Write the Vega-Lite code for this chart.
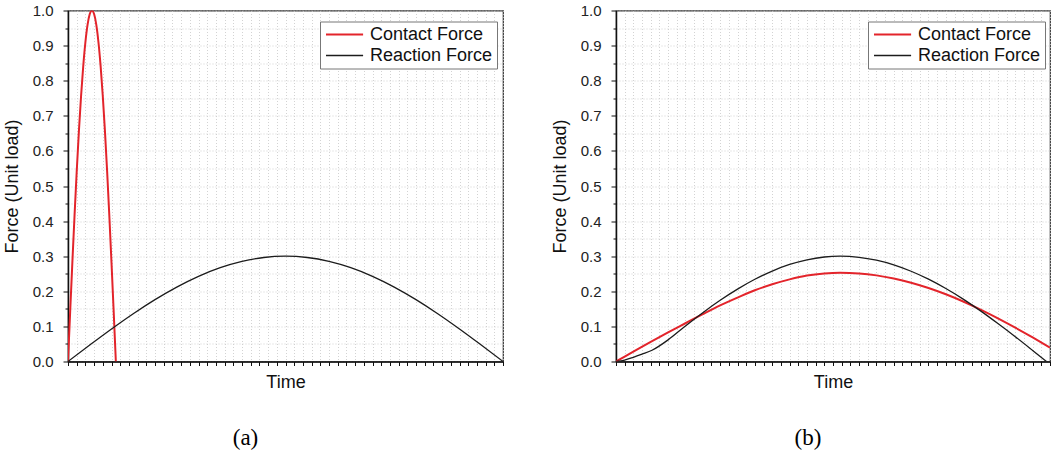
{
  "$schema": "https://vega.github.io/schema/vega-lite/v6.json",
  "padding": {"left": 2, "top": 2.5, "right": 0, "bottom": 0},
  "spacing": 45,
  "background": "white",
  "datasets": {
    "a": [
      {"series": "Contact Force", "t": 0, "f": 0},
      {"series": "Contact Force", "t": 0.25, "f": 0.1423},
      {"series": "Contact Force", "t": 0.5, "f": 0.2817},
      {"series": "Contact Force", "t": 0.75, "f": 0.4154},
      {"series": "Contact Force", "t": 1.0, "f": 0.5406},
      {"series": "Contact Force", "t": 1.25, "f": 0.6549},
      {"series": "Contact Force", "t": 1.5, "f": 0.7557},
      {"series": "Contact Force", "t": 1.75, "f": 0.8413},
      {"series": "Contact Force", "t": 2.0, "f": 0.9096},
      {"series": "Contact Force", "t": 2.25, "f": 0.9595},
      {"series": "Contact Force", "t": 2.5, "f": 0.9898},
      {"series": "Contact Force", "t": 2.75, "f": 1.0},
      {"series": "Contact Force", "t": 3.0, "f": 0.9898},
      {"series": "Contact Force", "t": 3.25, "f": 0.9595},
      {"series": "Contact Force", "t": 3.5, "f": 0.9096},
      {"series": "Contact Force", "t": 3.75, "f": 0.8413},
      {"series": "Contact Force", "t": 4.0, "f": 0.7557},
      {"series": "Contact Force", "t": 4.25, "f": 0.6549},
      {"series": "Contact Force", "t": 4.5, "f": 0.5406},
      {"series": "Contact Force", "t": 4.75, "f": 0.4154},
      {"series": "Contact Force", "t": 5.0, "f": 0.2817},
      {"series": "Contact Force", "t": 5.25, "f": 0.1423},
      {"series": "Contact Force", "t": 5.5, "f": 0},
      {"series": "Reaction Force", "t": 0, "f": 0},
      {"series": "Reaction Force", "t": 2.5, "f": 0.0469},
      {"series": "Reaction Force", "t": 5, "f": 0.0927},
      {"series": "Reaction Force", "t": 7.5, "f": 0.1362},
      {"series": "Reaction Force", "t": 10, "f": 0.1763},
      {"series": "Reaction Force", "t": 12.5, "f": 0.2121},
      {"series": "Reaction Force", "t": 15, "f": 0.2427},
      {"series": "Reaction Force", "t": 17.5, "f": 0.2673},
      {"series": "Reaction Force", "t": 20, "f": 0.2853},
      {"series": "Reaction Force", "t": 22.5, "f": 0.2963},
      {"series": "Reaction Force", "t": 25, "f": 0.3},
      {"series": "Reaction Force", "t": 27.5, "f": 0.2963},
      {"series": "Reaction Force", "t": 30, "f": 0.2853},
      {"series": "Reaction Force", "t": 32.5, "f": 0.2673},
      {"series": "Reaction Force", "t": 35, "f": 0.2427},
      {"series": "Reaction Force", "t": 37.5, "f": 0.2121},
      {"series": "Reaction Force", "t": 40, "f": 0.1763},
      {"series": "Reaction Force", "t": 42.5, "f": 0.1362},
      {"series": "Reaction Force", "t": 45, "f": 0.0927},
      {"series": "Reaction Force", "t": 47.5, "f": 0.0469},
      {"series": "Reaction Force", "t": 50, "f": 0}
    ],
    "b": [
      {"series": "Contact Force", "t": 0, "f": 0},
      {"series": "Contact Force", "t": 2, "f": 0.028},
      {"series": "Contact Force", "t": 4, "f": 0.056},
      {"series": "Contact Force", "t": 6, "f": 0.083},
      {"series": "Contact Force", "t": 8, "f": 0.109},
      {"series": "Contact Force", "t": 10, "f": 0.135},
      {"series": "Contact Force", "t": 12, "f": 0.16},
      {"series": "Contact Force", "t": 14, "f": 0.182},
      {"series": "Contact Force", "t": 16, "f": 0.203},
      {"series": "Contact Force", "t": 18, "f": 0.22},
      {"series": "Contact Force", "t": 20, "f": 0.234},
      {"series": "Contact Force", "t": 22, "f": 0.245},
      {"series": "Contact Force", "t": 24, "f": 0.251},
      {"series": "Contact Force", "t": 25.8, "f": 0.253},
      {"series": "Contact Force", "t": 28, "f": 0.2509},
      {"series": "Contact Force", "t": 30, "f": 0.2454},
      {"series": "Contact Force", "t": 32, "f": 0.2366},
      {"series": "Contact Force", "t": 34, "f": 0.2246},
      {"series": "Contact Force", "t": 36, "f": 0.2094},
      {"series": "Contact Force", "t": 38, "f": 0.1915},
      {"series": "Contact Force", "t": 40, "f": 0.1709},
      {"series": "Contact Force", "t": 42, "f": 0.148},
      {"series": "Contact Force", "t": 44, "f": 0.1231},
      {"series": "Contact Force", "t": 46, "f": 0.0965},
      {"series": "Contact Force", "t": 48, "f": 0.0686},
      {"series": "Contact Force", "t": 50, "f": 0.0397},
      {"series": "Reaction Force", "t": 0, "f": 0},
      {"series": "Reaction Force", "t": 1, "f": 0.004},
      {"series": "Reaction Force", "t": 2, "f": 0.012},
      {"series": "Reaction Force", "t": 3, "f": 0.021},
      {"series": "Reaction Force", "t": 4.15, "f": 0.032},
      {"series": "Reaction Force", "t": 6, "f": 0.0616},
      {"series": "Reaction Force", "t": 8, "f": 0.1013},
      {"series": "Reaction Force", "t": 10, "f": 0.1391},
      {"series": "Reaction Force", "t": 12, "f": 0.1743},
      {"series": "Reaction Force", "t": 14, "f": 0.2062},
      {"series": "Reaction Force", "t": 16, "f": 0.2342},
      {"series": "Reaction Force", "t": 18, "f": 0.2577},
      {"series": "Reaction Force", "t": 20, "f": 0.2764},
      {"series": "Reaction Force", "t": 22, "f": 0.2898},
      {"series": "Reaction Force", "t": 24, "f": 0.2977},
      {"series": "Reaction Force", "t": 25.8, "f": 0.3},
      {"series": "Reaction Force", "t": 28, "f": 0.2969},
      {"series": "Reaction Force", "t": 30, "f": 0.2885},
      {"series": "Reaction Force", "t": 32, "f": 0.2753},
      {"series": "Reaction Force", "t": 34, "f": 0.2571},
      {"series": "Reaction Force", "t": 36, "f": 0.2345},
      {"series": "Reaction Force", "t": 38, "f": 0.2079},
      {"series": "Reaction Force", "t": 40, "f": 0.1777},
      {"series": "Reaction Force", "t": 42, "f": 0.1442},
      {"series": "Reaction Force", "t": 44, "f": 0.1081},
      {"series": "Reaction Force", "t": 46, "f": 0.0706},
      {"series": "Reaction Force", "t": 48, "f": 0.0316},
      {"series": "Reaction Force", "t": 49.6, "f": 0}
    ]
  },
  "hconcat": [
    {
      "width": 435,
      "height": 351,
      "data": {"name": "a"},
      "title": {"text": "(a)", "orient": "bottom", "anchor": "middle", "frame": "group", "dx": -40, "offset": 36},
      "mark": {"type": "line", "interpolate": "monotone", "clip": true},
      "encoding": {
        "x": {"field": "t", "type": "quantitative", "scale": {"domain": [0, 50], "nice": false, "zero": false},
          "axis": {"title": "Time", "values": [0,1,2,3,4,5,6,7,8,9,10,11,12,13,14,15,16,17,18,19,20,21,22,23,24,25,26,27,28,29,30,31,32,33,34,35,36,37,38,39,40,41,42,43,44,45,46,47,48,49,50], "labels": false}},
        "y": {"field": "f", "type": "quantitative", "scale": {"domain": [0, 1], "nice": false},
          "axis": {"title": "Force (Unit load)", "values": [0,0.05,0.1,0.15,0.2,0.25,0.3,0.35,0.4,0.45,0.5,0.55,0.6,0.65,0.7,0.75,0.8,0.85,0.9,0.95,1.0],
            "labelExpr": "round(datum.value*100) % 10 == 0 ? format(datum.value, '.1f') : ''",
            "tickSize": {"condition": {"test": "round(datum.value*100) % 10 == 0", "value": 5}, "value": 3}}},
        "color": {"field": "series", "type": "nominal", "scale": {"domain": ["Contact Force", "Reaction Force"], "range": ["#e3242b", "#1c1c1c"]}, "legend": {"title": null}},
        "strokeWidth": {"field": "series", "type": "nominal", "scale": {"domain": ["Contact Force", "Reaction Force"], "range": [2, 1.3]}, "legend": {"title": null}}
      }
    },
    {
      "width": 434,
      "height": 351,
      "data": {"name": "b"},
      "title": {"text": "(b)", "orient": "bottom", "anchor": "middle", "frame": "group", "dx": -25, "offset": 36},
      "mark": {"type": "line", "interpolate": "monotone", "clip": true},
      "encoding": {
        "x": {"field": "t", "type": "quantitative", "scale": {"domain": [0, 50], "nice": false, "zero": false},
          "axis": {"title": "Time", "values": [0,1,2,3,4,5,6,7,8,9,10,11,12,13,14,15,16,17,18,19,20,21,22,23,24,25,26,27,28,29,30,31,32,33,34,35,36,37,38,39,40,41,42,43,44,45,46,47,48,49,50], "labels": false}},
        "y": {"field": "f", "type": "quantitative", "scale": {"domain": [0, 1], "nice": false},
          "axis": {"title": "Force (Unit load)", "values": [0,0.05,0.1,0.15,0.2,0.25,0.3,0.35,0.4,0.45,0.5,0.55,0.6,0.65,0.7,0.75,0.8,0.85,0.9,0.95,1.0],
            "labelExpr": "round(datum.value*100) % 10 == 0 ? format(datum.value, '.1f') : ''",
            "tickSize": {"condition": {"test": "round(datum.value*100) % 10 == 0", "value": 5}, "value": 3}}},
        "color": {"field": "series", "type": "nominal", "scale": {"domain": ["Contact Force", "Reaction Force"], "range": ["#e3242b", "#1c1c1c"]}, "legend": {"title": null}},
        "strokeWidth": {"field": "series", "type": "nominal", "scale": {"domain": ["Contact Force", "Reaction Force"], "range": [2, 1.3]}, "legend": {"title": null}}
      }
    }
  ],
  "resolve": {"scale": {"color": "independent", "strokeWidth": "independent"}, "legend": {"color": "independent", "strokeWidth": "independent"}},
  "config": {
    "font": "Liberation Sans",
    "view": {"stroke": "#333333", "strokeWidth": 1.2},
    "axis": {
      "labelFont": "Liberation Sans", "labelFontSize": 15, "labelColor": "#222222", "labelPadding": 10,
      "titleFont": "Liberation Sans", "titleFontSize": 18, "titleFontWeight": "normal", "titleColor": "#111111",
      "domainColor": "#111111", "domainWidth": 1.5,
      "tickColor": "#111111", "tickWidth": 1, "tickSize": 4,
      "grid": true, "gridColor": "#c8c8c8", "gridDash": [1, 2], "gridWidth": 0.8
    },
    "axisY": {"titlePadding": 11, "titleFontSize": 18},
    "axisX": {"titlePadding": 7},
    "legend": {
      "orient": "none", "legendX": 252, "legendY": 11,
      "strokeColor": "#777777", "fillColor": "white", "padding": 4,
      "symbolType": "M -1 0 L 4.3 0", "symbolSize": 196, "symbolStrokeWidth": 2,
      "labelFont": "Liberation Sans", "labelFontSize": 18, "labelColor": "#111111", "labelOffset": 28,
      "rowPadding": 3
    },
    "title": {"font": "Liberation Serif", "fontSize": 23, "fontWeight": "normal", "color": "#000000"}
  }
}
